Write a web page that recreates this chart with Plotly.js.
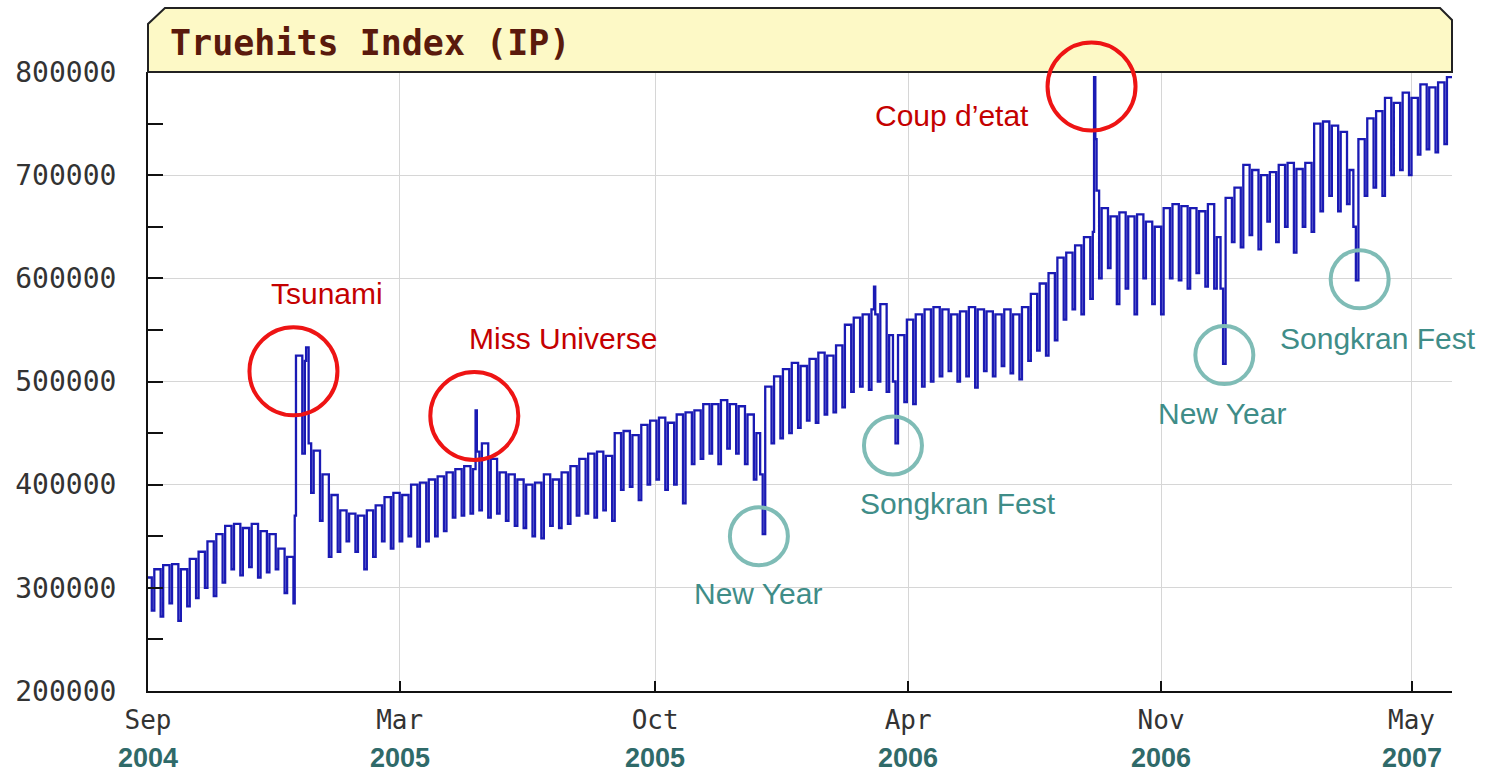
<!DOCTYPE html>
<html><head><meta charset="utf-8">
<script src="https://cdn.plot.ly/plotly-3.0.1.min.js"></script>
<style>html,body{margin:0;padding:0;background:#fff;} #chart{width:1493px;height:775px;}</style>
</head><body><div id="chart"></div>
<script>
// ---- data ----
const weekStart = '2004-08-30';   // Monday of first week
const weekHigh = [
 310000,318000,322000,323000,318000,328000,335000,345000,352000,360000,
 362000,358000,362000,355000,352000,338000,330000,525000,520000,433000,
 410000,390000,375000,372000,370000,375000,380000,388000,392000,390000,
 400000,402000,405000,408000,412000,415000,418000,415000,440000,425000,
 412000,410000,405000,400000,402000,410000,405000,412000,418000,425000,
 430000,432000,428000,450000,452000,448000,458000,462000,465000,460000,
 468000,470000,472000,478000,478000,482000,478000,476000,468000,450000,
 495000,505000,512000,518000,515000,522000,528000,525000,535000,555000,
 562000,565000,570000,575000,545000,545000,560000,565000,570000,572000,
 570000,565000,568000,572000,570000,568000,565000,570000,565000,572000,
 585000,595000,605000,620000,625000,632000,640000,645000,668000,660000,
 664000,660000,662000,655000,650000,668000,672000,670000,668000,665000,
 672000,640000,678000,688000,710000,705000,700000,703000,710000,712000,
 706000,712000,750000,752000,748000,742000,705000,735000,755000,762000,
 775000,770000,780000,775000,788000,785000,790000,795000
];
const weekLow = [
 278000,272000,285000,268000,282000,290000,300000,292000,305000,318000,
 312000,320000,310000,315000,318000,295000,285000,430000,392000,365000,
 330000,335000,345000,335000,318000,330000,345000,338000,345000,350000,
 340000,345000,350000,355000,368000,370000,372000,375000,368000,372000,
 365000,360000,358000,350000,348000,360000,358000,362000,370000,372000,
 368000,375000,365000,395000,398000,385000,400000,405000,395000,400000,
 382000,420000,425000,430000,420000,435000,430000,420000,405000,352000,
 440000,445000,450000,455000,462000,460000,468000,470000,475000,490000,
 495000,492000,500000,490000,440000,480000,478000,495000,500000,505000,
 510000,500000,505000,494000,510000,505000,515000,508000,502000,520000,
 530000,525000,540000,560000,570000,565000,580000,600000,610000,575000,
 590000,565000,600000,575000,565000,600000,598000,590000,605000,592000,
 590000,517000,635000,630000,642000,628000,655000,635000,650000,625000,
 650000,645000,665000,680000,665000,672000,598000,680000,688000,680000,
 700000,705000,700000,720000,725000,722000,730000,740000
];
// single notable days inside a week
const extraDates  = ['2004-12-26','2005-01-04','2005-01-06','2005-05-18','2005-05-19','2005-12-29',
                     '2006-03-29','2006-03-30','2006-04-13','2006-09-19','2006-09-20','2006-09-21',
                     '2006-12-28','2007-04-12'];
const extraValues = [370000,533000,440000,472000,432000,410000,
                     592000,565000,500000,795000,735000,685000,
                     590000,650000];

const tickDates   = ['2004-09-01','2005-03-19','2005-10-07','2006-04-25','2006-11-11','2007-05-28'];
const monthLabels = ['Sep','Mar','Oct','Apr','Nov','May'];
const yearLabels  = ['2004','2005','2005','2006','2006','2007'];

const eventNames  = ['Tsunami','Miss Universe','Coup d\u2019etat','New Year','Songkran Fest','New Year','Songkran Fest'];
const eventDates  = ['2004-12-25','2005-05-17','2006-09-17','2005-12-28','2006-04-13','2006-12-31','2007-04-17'];
const eventValues = [510000,466500,786000,350000,438000,525600,599000];
const eventKinds  = ['peak','peak','peak','dip','dip','dip','dip'];

// ---- layout constants ----
const X_RANGE = ['2004-09-01','2007-06-29'];
const Y_RANGE = [200000, 800000];
const textShift = [[34,78],[89,78],[-140,-29],[-1,-57],[65,-58],[-2,-58],[18,-59]];

// ---- build series ----
const DAY = 86400000;
const t0 = Date.parse(weekStart);
const pts = [];
weekHigh.forEach((v,k) => {
  pts.push([t0 + 7*k*DAY, v]);
  pts.push([t0 + (7*k+5)*DAY, weekLow[k]]);
});
extraDates.forEach((d,i) => pts.push([Date.parse(d), extraValues[i]]));
pts.sort((a,b) => a[0]-b[0]);
const xs = pts.map(p => new Date(p[0]).toISOString().slice(0,10));
const ys = pts.map(p => p[1]);

const trace = {
  x: xs, y: ys, type: 'scatter', mode: 'lines',
  line: {color: '#1a1ab4', width: 2.3, shape: 'hv'},
  hoverinfo: 'x+y'
};

const xa0 = Date.parse(X_RANGE[0]), xa1 = Date.parse(X_RANGE[1]);
const toPX = d => (Date.parse(d) - xa0) / (xa1 - xa0);
const toPY = v => (v - Y_RANGE[0]) / (Y_RANGE[1] - Y_RANGE[0]);

const shapes = [{
  type: 'path', xref: 'paper', yref: 'paper',
  path: 'M 0,1 L 0,1.0776 L 0.013,1.1034 L 0.9908,1.1034 L 1,1.084 L 1,1 Z',
  fillcolor: '#fdf9c6', line: {color: '#222', width: 2}
}];
const annotations = [{
  xref: 'paper', yref: 'paper', x: 0.0153, y: 1.047, xanchor: 'left', yanchor: 'middle',
  text: '<b>Truehits Index (IP)</b>', showarrow: false,
  font: {family: 'DejaVu Sans Mono', size: 35, color: '#5a1a0c'}
}];
tickDates.forEach((d,i) => annotations.push({
  xref: 'x', yref: 'paper', x: d, y: -0.109, xanchor: 'center', yanchor: 'middle',
  text: '<b>' + yearLabels[i] + '</b>', showarrow: false,
  font: {family: 'Liberation Sans, Arial', size: 27, color: '#2f6a69'}
}));
eventNames.forEach((name,i) => {
  const peak = eventKinds[i] === 'peak';
  const r = peak ? 44 : 29;
  shapes.push({
    type: 'circle', xref: 'paper', yref: 'paper',
    xsizemode: 'pixel', ysizemode: 'pixel',
    xanchor: toPX(eventDates[i]), yanchor: toPY(eventValues[i]),
    x0: -r, x1: r, y0: -r, y1: r,
    line: {color: peak ? '#ee1414' : '#7fbcb6', width: 4}, fillcolor: 'rgba(0,0,0,0)'
  });
  annotations.push({
    xref: 'x', yref: 'y', x: eventDates[i], y: eventValues[i],
    xshift: textShift[i][0], yshift: textShift[i][1],
    xanchor: 'center', yanchor: 'middle', showarrow: false, text: name,
    font: {family: 'Liberation Sans, Arial', size: 30, color: peak ? '#c40000' : '#3f8d88'}
  });
});

const layout = {
  width: 1493, height: 775,
  margin: {l: 148, r: 41, t: 72, b: 84},
  paper_bgcolor: '#ffffff', plot_bgcolor: '#ffffff',
  showlegend: false,
  xaxis: {
    type: 'date', range: X_RANGE,
    tickmode: 'array', tickvals: tickDates, ticktext: monthLabels,
    ticks: 'inside', ticklen: 10, tickwidth: 2, tickcolor: '#111',
    showline: true, linecolor: '#111', linewidth: 2,
    showgrid: true, gridcolor: '#d6d6d6', gridwidth: 1,
    zeroline: false, ticklabelstandoff: 5,
    tickfont: {family: 'DejaVu Sans Mono', size: 26, color: '#333'}
  },
  yaxis: {
    range: Y_RANGE, tickmode: 'linear', tick0: 200000, dtick: 100000,
    tickformat: 'd',
    ticks: 'inside', ticklen: 15, tickwidth: 2, tickcolor: '#111',
    minor: {tickmode: 'linear', tick0: 250000, dtick: 100000, ticks: 'inside', ticklen: 15, tickwidth: 2, tickcolor: '#111', showgrid: false},
    showline: true, linecolor: '#111', linewidth: 2,
    showgrid: true, gridcolor: '#d6d6d6', gridwidth: 1,
    zeroline: false, ticklabelstandoff: 24,
    tickfont: {family: 'DejaVu Sans Mono', size: 28, color: '#333'}
  },
  shapes: shapes,
  annotations: annotations
};

Plotly.newPlot('chart', [trace], layout, {displayModeBar: false, staticPlot: true});
</script>
</body></html>
